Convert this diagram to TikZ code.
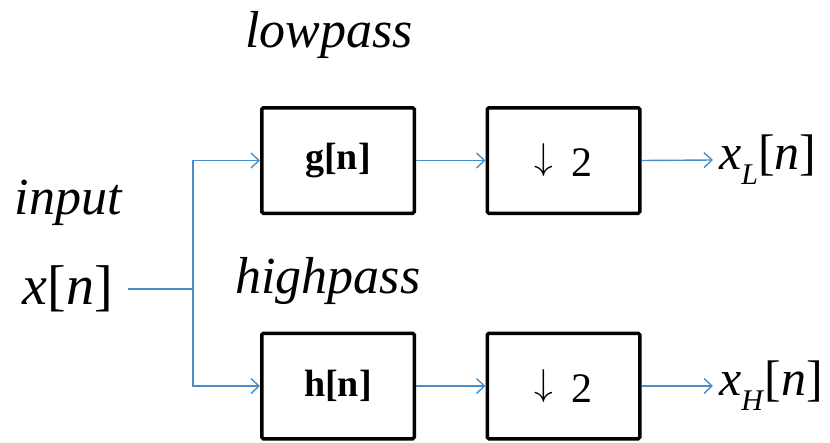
\documentclass[tikz,border=0pt]{standalone}
\usepackage{fontspec}
\setmainfont{Liberation Serif}
\usetikzlibrary{arrows.meta}
\definecolor{wire}{RGB}{74,142,200}
\newcommand{\dnarrow}{\raisebox{7pt}{\scalebox{1.8}{\fontsize{20}{24}\selectfont$\downarrow$}}}
\begin{document}
\begin{tikzpicture}[x=1pt,y=-1pt,
  blockbox/.style={draw=black,line width=3.5pt,rounded corners=1.5pt,minimum width=152.5pt,minimum height=105.5pt,inner sep=0pt,font=\fontsize{38}{44}\selectfont},
  wireline/.style={draw=wire,line width=1.4pt},
  arr/.style={wireline,-{Straight Barb[length=8pt,width=15pt,line width=1.4pt]}},
  lbl/.style={font=\fontsize{52}{58}\selectfont\itshape,inner sep=0pt},
  sig/.style={font=\fontsize{56}{62}\selectfont,inner sep=0pt}]
\useasboundingbox (0,0) rectangle (830,442);
\node[blockbox] (g) at (338,160.5) {\textbf{g[n]}};
\node[blockbox] (d1) at (563.5,160.5) {\dnarrow\hspace{18pt}{\fontsize{42}{46}\selectfont 2}};
\node[blockbox] (h) at (338,386) {\textbf{h[n]}};
\node[blockbox] (d2) at (563.5,386) {\dnarrow\hspace{18pt}{\fontsize{42}{46}\selectfont 2}};
\node[lbl] (lp) at (329,35) {lowpass};
\node[lbl] (hp) at (328,281) {highpass};
\node[lbl] (inp) at (68,203) {input};
\node[sig] (xin) at (68,289) {\textit{x}[\textit{n}]};
\coordinate (br) at (193,289);
\coordinate (xe) at (128,289);
\node[sig,anchor=west,inner sep=0pt,font=\fontsize{50}{56}\selectfont] (xl) at (719,160) {\textit{x}\raisebox{-0.3em}{\fontsize{30}{34}\selectfont\textit{L}}[\textit{n}]};
\node[sig,anchor=west,inner sep=0pt,font=\fontsize{50}{56}\selectfont] (xh) at (719,386) {\textit{x}\raisebox{-0.3em}{\fontsize{30}{34}\selectfont\textit{H}}[\textit{n}]};
\coordinate (ol) at (713,160);
\coordinate (oh) at (713,386);
\draw[wireline] (xe) -- (br);
\draw[arr] (br) |- (g.west);
\draw[arr] (br) |- (h.west);
\draw[arr] (g.east) -- (d1.west);
\draw[arr] (h.east) -- (d2.west);
\draw[arr] (d1.east) -- (ol);
\draw[arr] (d2.east) -- (oh);
\end{tikzpicture}
\end{document}
